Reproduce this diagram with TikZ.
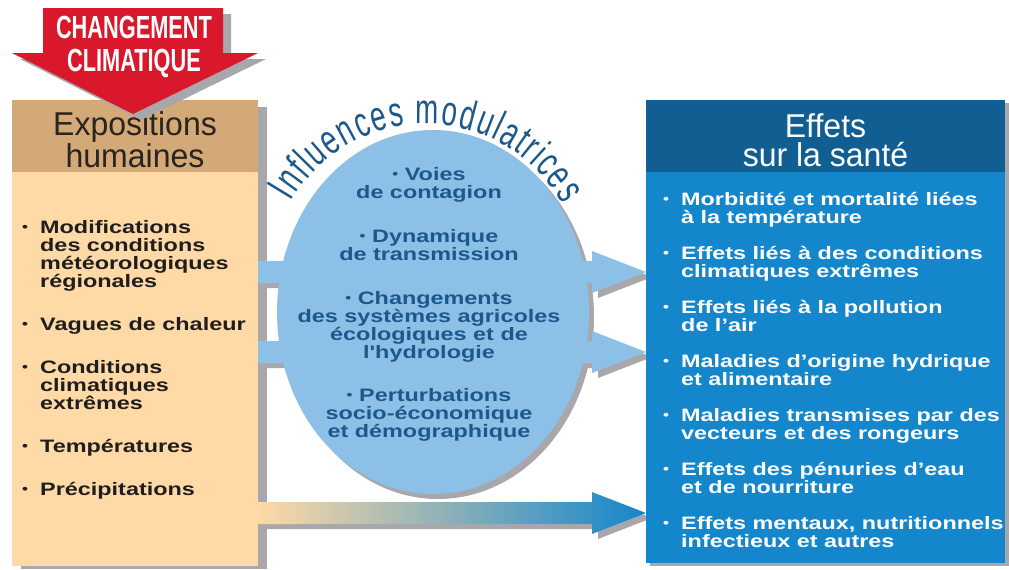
\documentclass[tikz,border=0pt]{standalone}
\usepackage{fontspec}
\setmainfont{Liberation Sans}
\newfontfamily\corpsfont[FakeStretch=1.3]{Liberation Sans}
\newfontfamily\titrefont[FakeStretch=0.97]{Liberation Sans}
\newfontfamily\etroitfont[FakeStretch=0.68]{Liberation Sans}
\newfontfamily\arcfont[FakeStretch=0.66]{Liberation Sans}
\usetikzlibrary{shapes.geometric,positioning,calc,backgrounds,decorations.text}

\definecolor{rouge}{RGB}{218,24,44}
\definecolor{brun}{RGB}{212,169,120}
\definecolor{peche}{RGB}{255,217,166}
\definecolor{bleuclair}{RGB}{140,192,230}
\definecolor{bleutexte}{RGB}{28,88,140}
\definecolor{bleufonce}{RGB}{16,94,146}
\definecolor{bleu}{RGB}{20,134,204}
\definecolor{ombre}{RGB}{168,168,172}
\definecolor{encre}{RGB}{30,30,30}
\definecolor{titre}{RGB}{40,36,32}

\newcommand\point{\raisebox{1.5pt}{\fontsize{13}{13}\selectfont\textbullet}}
\newcommand\puce{\makebox[18pt][l]{\point}}
\newcommand\suite{\hspace*{18pt}}
\newcommand\haut[1]{\rule{0pt}{#1}}
% fleche large de la boite de gauche vers celle de droite, #2 = hauteur
\newcommand\flechebloc[2]{%
  \path[#1] ($(expobody.east |- 0,#2)+(0,-11)$) -- ($(effetsbody.west |- 0,#2)+(-54,-11)$)
    -- ++(0,-10) -- (effetsbody.west |- 0,#2) -- ++(-54,21) -- ++(0,-10)
    -- ($(expobody.east |- 0,#2)+(0,11)$) -- cycle;}

\begin{document}
\begin{tikzpicture}[x=1pt, y=-1pt,
    boite/.style={rectangle, inner sep=0pt, outer sep=0pt, anchor=north west},
    entete/.style={boite, minimum height=72pt, align=center, font=\titrefont\fontsize{33}{29}\selectfont},
    liste/.style={inner sep=0pt, align=left, anchor=north west, font=\corpsfont\bfseries\fontsize{18}{18}\selectfont}
]
    \useasboundingbox (0,0) rectangle (1009,570);

    % les deux colonnes
    \node[entete, fill=brun, text=titre, minimum width=246pt] (expohead) at (12,100) {\haut{32pt}Expositions\\humaines};
    \node[boite, fill=peche, minimum width=246pt, minimum height=394pt, below=0pt of expohead] (expobody) {};
    \node[entete, fill=bleufonce, text=white, minimum width=359pt] (effetshead) at (646,100) {\haut{32pt}Effets\\sur la santé};
    \node[boite, fill=bleu, minimum width=359pt, minimum height=391pt, below=0pt of effetshead] (effetsbody) {};

    % fleches
    \flechebloc{fill=bleuclair}{272}
    \flechebloc{fill=bleuclair}{352}
    \node[ellipse, fill=bleuclair, inner sep=0pt, minimum width=312pt, minimum height=364pt] (modul) at (433,312) {};
    \flechebloc{left color=peche, right color=bleu}{513}

    % changement climatique
    \fill[ombre, shift={(8,6)}] (43,8) -- (223,8) -- (223,53) -- (258,53) -- (133,114) -- (12,53) -- (43,53) -- cycle;
    \fill[rouge] (43,8) -- (223,8) -- (223,53) -- (258,53) -- (133,114) -- (12,53) -- (43,53) -- cycle;
    \node[inner sep=0pt, align=center, text=white, font=\etroitfont\bfseries\fontsize{32}{33}\selectfont] (climat) at (134,47) {CHANGEMENT\\CLIMATIQUE};

    % textes
    \node[liste, text=encre] (expoliste) at (22,218) {\haut{15pt}\puce Modifications\\\suite des conditions\\\suite météorologiques\\\suite régionales\\[25pt]%
        \puce Vagues de chaleur\\[25pt]\puce Conditions\\\suite climatiques\\\suite extrêmes\\[25pt]\puce Températures\\[25pt]\puce Précipitations};
    \node[liste, align=center, anchor=north, text=bleutexte] (modultexte) at (429,165) {\haut{15pt}\point{} Voies\\de contagion\\[26pt]%
        \point{} Dynamique\\de transmission\\[26pt]\point{} Changements\\des systèmes agricoles\\écologiques et de\\l'hydrologie\\[25pt]%
        \point{} Perturbations\\socio-économique\\et démographique};
    \node[liste, text=white] (effetsliste) at (663,190) {\haut{15pt}\puce Morbidité et mortalité liées\\\suite à la température\\[18pt]%
        \puce Effets liés à des conditions\\\suite climatiques extrêmes\\[18pt]\puce Effets liés à la pollution\\\suite de l’air\\[18pt]%
        \puce Maladies d’origine hydrique\\\suite et alimentaire\\[18pt]\puce Maladies transmises par des\\\suite vecteurs et des rongeurs\\[18pt]%
        \puce Effets des pénuries d’eau\\\suite et de nourriture\\[18pt]\puce Effets mentaux, nutritionnels\\\suite infectieux et autres};

    \path[decorate, decoration={text along path, text align=fit to path, text color=bleutexte,
        text={|\arcfont\fontsize{42}{42}\selectfont|Influences modulatrices}}]
        (290.9,202) arc[start angle=210, end angle=331, radius=156];

    % ombres
    \begin{scope}[on background layer]
        \fill[white] (0,0) rectangle (1009,570);
        \fill[ombre] ([shift={(9,7)}]expohead.north west) rectangle ([shift={(9,3)}]expobody.south east);
        \fill[ombre] ([shift={(4,3)}]effetshead.north west) rectangle ([shift={(4,3)}]effetsbody.south east);
        \fill[ombre] ([shift={(5,5)}]modul.center) ellipse [x radius=156, y radius=182];
        \flechebloc{fill=ombre, transform canvas={xshift=6pt, yshift=-5pt}}{272}
        \flechebloc{fill=ombre, transform canvas={xshift=6pt, yshift=-5pt}}{352}
        \flechebloc{fill=ombre, transform canvas={xshift=6pt, yshift=-5pt}}{513}
    \end{scope}
\end{tikzpicture}
\end{document}
